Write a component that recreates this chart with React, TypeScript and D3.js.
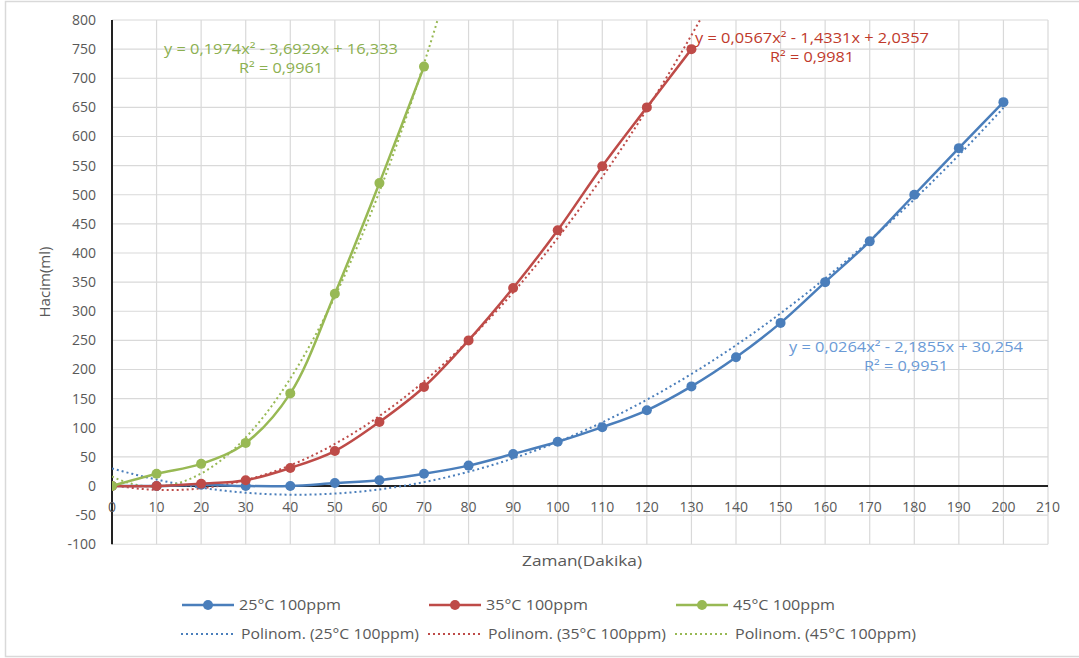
import React from "react";
import * as d3 from "d3";

const xTimes = [0, 10, 20, 30, 40, 50, 60, 70, 80, 90, 100, 110, 120, 130, 140, 150, 160, 170, 180, 190, 200];
const blue25 = [0, 0, 2, 0, 0, 5, 10, 21, 35, 55, 76, 101, 130, 171, 221, 280, 350, 420, 500, 580, 659];
const red35 = [0, 0, 4, 10, 31, 60, 110, 170, 250, 340, 439, 549, 650, 750];
const green45 = [0, 21, 38, 74, 159, 330, 520, 720];

// trendline coefficients as printed on the chart [a, b, c] for y = a x^2 + b x + c
const coefBlue = [0.0264, -2.1855, 30.254];
const coefRed = [0.0567, -1.4331, 2.0357];
const coefGreen = [0.1974, -3.6929, 16.333];

const eqBlue = ["y = 0,0264x² - 2,1855x + 30,254", "R² = 0,9951"];
const eqRed = ["y = 0,0567x² - 1,4331x + 2,0357", "R² = 0,9981"];
const eqGreen = ["y = 0,1974x² - 3,6929x + 16,333", "R² = 0,9961"];

const xTicks = d3.range(0, 211, 10);
const yTicks = d3.range(-100, 801, 50);

const seriesNames = ["25°C 100ppm", "35°C 100ppm", "45°C 100ppm"];
const trendNames = ["Polinom. (25°C 100ppm)", "Polinom. (35°C 100ppm)", "Polinom. (45°C 100ppm)"];

const BLUE = "#4a7ebb";
const RED = "#be4b48";
const GREEN = "#98b954";
const BLUE_TXT = "#6a9ad6";
const RED_TXT = "#c0392b";
const GREEN_TXT = "#8cb050";

export default function App() {
  const W = 1079, H = 658;
  const x = d3.scaleLinear().domain([0, 210]).range([112, 1048]);
  const y = d3.scaleLinear().domain([-100, 800]).range([544.25, 20]);
  const font = "'Open Sans', 'Liberation Sans', sans-serif";

  const line = d3
    .line<[number, number]>()
    .x((d) => x(d[0]))
    .y((d) => y(d[1]))
    .curve(d3.curveCatmullRom.alpha(0.5));
  const straight = d3
    .line<[number, number]>()
    .x((d) => x(d[0]))
    .y((d) => y(d[1]));

  const series = [
    { vals: blue25, color: BLUE, coef: coefBlue, tEnd: 200 },
    { vals: red35, color: RED, coef: coefRed, tEnd: 210 },
    { vals: green45, color: GREEN, coef: coefGreen, tEnd: 210 },
  ];

  const trendPts = (coef: number[], end: number): [number, number][] =>
    d3.range(0, end + 0.001, 0.5).map((t) => [t, coef[0] * t * t + coef[1] * t + coef[2]]);

  const legendRow1 = [182, 429, 676];
  const legendRow2 = [181, 428, 675];
  const legendW1 = [102, 102, 102];
  const legendW2 = [178, 178, 181];

  return (
    <svg width={W} height={H} style={{ position: "absolute", left: 0, top: 0 }} fontFamily={font}>
      <rect x={0} y={0} width={W} height={H} fill="#fff" />
      <path d={`M1079,1.5 H5.5 V656.5 H1079`} fill="none" stroke="#d9d9d9" strokeWidth={1.5} />
      <defs>
        <clipPath id="plot">
          <rect x={112} y={20} width={936} height={525} />
        </clipPath>
      </defs>
      {/* gridlines */}
      {xTicks.map((t) => (
        <line key={"gx" + t} x1={x(t)} x2={x(t)} y1={y(800)} y2={y(-100)} stroke="#d9d9d9" strokeWidth={1.2} />
      ))}
      {yTicks.map((t) => (
        <line key={"gy" + t} x1={x(0)} x2={x(210)} y1={y(t)} y2={y(t)} stroke="#d9d9d9" strokeWidth={1.2} />
      ))}
      {/* axes */}
      <line x1={x(0)} x2={x(0)} y1={y(800)} y2={y(-100)} stroke="#222" strokeWidth={2} />
      <line x1={x(0)} x2={x(210)} y1={y(0)} y2={y(0)} stroke="#222" strokeWidth={2} />
      {/* tick labels */}
      {yTicks.map((t) => (
        <text key={"ty" + t} x={96} y={y(t)} dy="0.35em" textAnchor="end" fontSize={14} fill="#595959">
          {t}
        </text>
      ))}
      {xTicks.map((t) => (
        <text key={"tx" + t} x={x(t)} y={507} dy="0.35em" textAnchor="middle" fontSize={14} fill="#595959">
          {t}
        </text>
      ))}
      <text x={582} y={561} dy="0.35em" textAnchor="middle" fontSize={15} fill="#595959" textLength={120} lengthAdjust="spacingAndGlyphs">
        Zaman(Dakika)
      </text>
      <text transform="translate(45,282) rotate(-90)" dy="0.35em" textAnchor="middle" fontSize={15} fill="#595959" textLength={71} lengthAdjust="spacingAndGlyphs">
        Hacim(ml)
      </text>
      {/* trendlines */}
      <g clipPath="url(#plot)">
        {series.map((s, i) => (
          <path
            key={"tr" + i}
            d={straight(trendPts(s.coef, s.tEnd)) || ""}
            fill="none"
            stroke={s.color}
            strokeWidth={2}
            strokeDasharray="2 3"
          />
        ))}
        {series.map((s, i) => {
          const pts: [number, number][] = s.vals.map((v, j) => [xTimes[j], v]);
          return (
            <g key={"s" + i}>
              <path d={line(pts) || ""} fill="none" stroke={s.color} strokeWidth={2.5} />
              {pts.map((p, j) => (
                <circle key={j} cx={x(p[0])} cy={y(p[1])} r={5} fill={s.color} />
              ))}
            </g>
          );
        })}
      </g>
      {/* equations */}
      {[
        { eq: eqGreen, cx: 281, cy: 49, c: GREEN_TXT },
        { eq: eqRed, cx: 812, cy: 38, c: RED_TXT },
        { eq: eqBlue, cx: 906, cy: 347, c: BLUE_TXT },
      ].map((e, i) => (
        <g key={"eq" + i} fill={e.c} fontSize={14} textAnchor="middle">
          <text x={e.cx} y={e.cy} dy="0.35em" textLength={234} lengthAdjust="spacingAndGlyphs">{e.eq[0]}</text>
          <text x={e.cx} y={e.cy + 19.5} dy="0.35em" textLength={84} lengthAdjust="spacingAndGlyphs">{e.eq[1]}</text>
        </g>
      ))}
      {/* legend */}
      {seriesNames.map((n, i) => (
        <g key={"l1" + i}>
          <line x1={legendRow1[i]} x2={legendRow1[i] + 52} y1={605} y2={605} stroke={series[i].color} strokeWidth={2.5} />
          <circle cx={legendRow1[i] + 26} cy={605} r={5} fill={series[i].color} />
          <text x={legendRow1[i] + 57} y={605} dy="0.35em" fontSize={14} fill="#595959" textLength={legendW1[i]} lengthAdjust="spacingAndGlyphs">{n}</text>
        </g>
      ))}
      {trendNames.map((n, i) => (
        <g key={"l2" + i}>
          <line x1={legendRow2[i]} x2={legendRow2[i] + 53} y1={634} y2={634} stroke={series[i].color} strokeWidth={2} strokeDasharray="2 3" />
          <text x={legendRow2[i] + 60} y={634} dy="0.35em" fontSize={14} fill="#595959" textLength={legendW2[i]} lengthAdjust="spacingAndGlyphs">{n}</text>
        </g>
      ))}
    </svg>
  );
}
